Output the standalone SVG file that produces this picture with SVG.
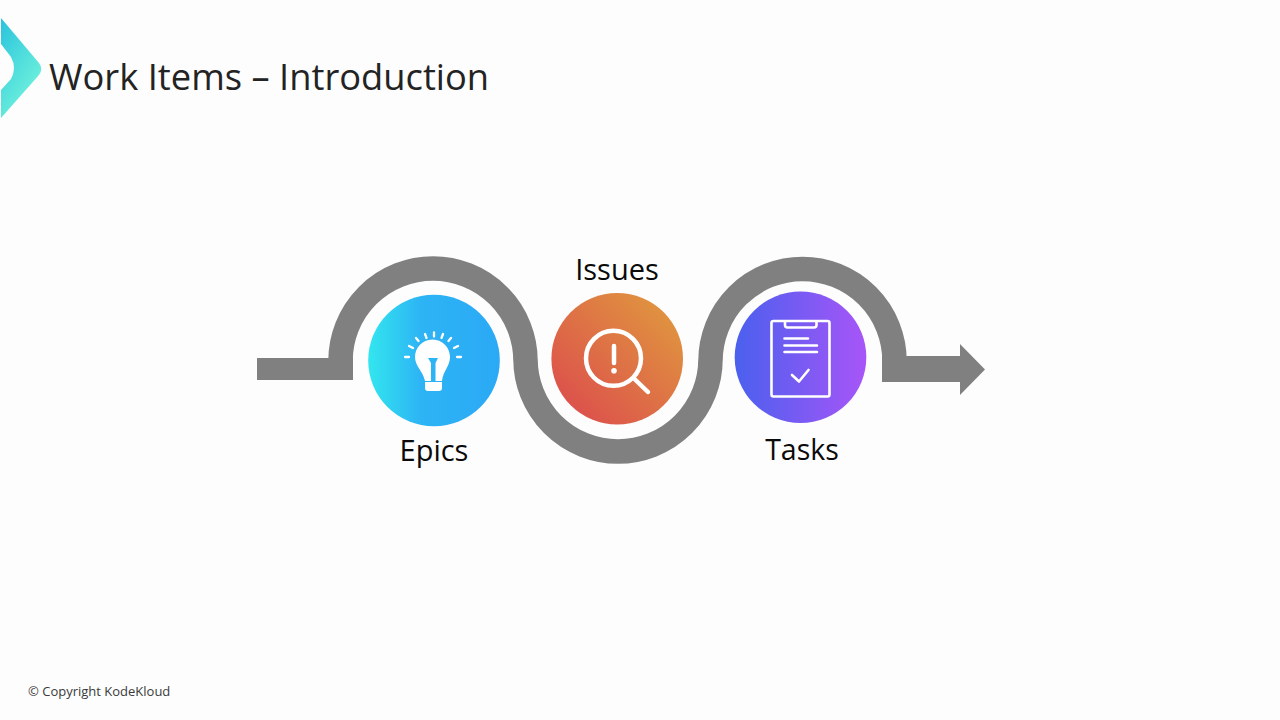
<svg xmlns="http://www.w3.org/2000/svg" width="1280" height="720" viewBox="0 0 1280 720">
<style>
text{font-family:"Open Sans","Noto Sans","Liberation Sans",sans-serif}
.title{font-size:36.300px;fill:#232323}
.label{font-size:29px;fill:#0a0a0a;text-anchor:middle}
.foot{font-size:13px;fill:#3a3a3a}
.band{fill:none;stroke:#808080;stroke-width:24.500}
.solid{fill:#808080}
.ico{fill:none;stroke:#fff;stroke-linecap:round;stroke-linejoin:round}
.icof{fill:#fff}
</style>
<defs>
<linearGradient id="gLogo" x1="0" y1="0" x2="0.6" y2="1"><stop offset="0" stop-color="#29c3dd"/><stop offset="1" stop-color="#74f5dc"/></linearGradient>
<linearGradient id="gEpics" x1="0" y1="0" x2="1" y2="0"><stop offset="0" stop-color="#33e6ee"/><stop offset="0.4" stop-color="#2db4f5"/><stop offset="1" stop-color="#2ba9f5"/></linearGradient>
<linearGradient id="gIssues" x1="0.1" y1="0.9" x2="0.9" y2="0.1"><stop offset="0" stop-color="#dc4f4c"/><stop offset="1" stop-color="#e0953f"/></linearGradient>
<linearGradient id="gTasks" x1="0" y1="0" x2="1" y2="0"><stop offset="0" stop-color="#4a60ee"/><stop offset="1" stop-color="#a855f8"/></linearGradient>
</defs>
<rect width="1280" height="720" fill="#fdfdfd"/>
<g id="logo"><path d="M1 18L39 63Q43.500 69 39 75L1 118V90L11 79Q17 68 11 57L1 44Z" fill="url(#gLogo)"/></g>
<text class="title" x="49" y="90">Work Items – Introduction</text>
<g id="connectors">
<rect class="solid" x="257" y="358" width="96" height="22"/>
<path class="band" d="M340.500 380V361A92.500 92.500 0 0 1 525.500 361V359A92.500 92.500 0 0 0 710.500 359V361A92 92 0 0 1 894.500 361V382"/>
<path class="solid" d="M882 356H960V344L985 369.500L960 395V382H882Z"/>
</g>
<g id="epics">
<circle cx="434" cy="360.500" r="65.800" fill="url(#gEpics)"/>
<path class="icof" d="M432.500 339.500C422 339.500 415 348 415 357C415 366 423 371 425 381H442C443 371 450 366 450 357C450 348 443 339.500 432.500 339.500ZM425 382H442V388Q442 391 439 391H428Q425 391 425 388Z"/>
<path d="M428 358H438L435.500 363V381H431V363Z" fill="#2db4f5"/>
<path class="ico" stroke-width="2.300" d="M405 357H409M409 346L413 348M416 338L418.500 341M425 334L426.500 338M434 332.500V336.500M443 334L441.500 338M451 338L448.500 341M458 346L454 348M461 357H457"/>
<text class="label" x="434" y="461">Epics</text>
</g>
<g id="issues">
<circle cx="617.200" cy="358.700" r="65.800" fill="url(#gIssues)"/>
<circle class="ico" cx="613.500" cy="358.300" r="27.500" stroke-width="4.500"/>
<path class="ico" stroke-width="4.500" d="M635 379.500L648 392M614 346V363"/>
<circle class="icof" cx="614" cy="370.700" r="2.800"/>
<text class="label" x="617" y="280">Issues</text>
</g>
<g id="tasks">
<circle cx="800.500" cy="357.200" r="65.800" fill="url(#gTasks)"/>
<rect class="ico" x="771.500" y="321" width="58" height="75.500" rx="2" stroke-width="2.600"/>
<path class="ico" stroke-width="2.600" d="M785 321.500V325Q785 327.500 787.500 327.500H814Q816.500 327.500 816.500 325V321.500"/>
<path class="ico" stroke-width="2.600" d="M784.500 338.500H808M784.500 345.500H817M784.500 352H817"/>
<path class="ico" stroke-width="2.600" d="M792 375L799 381.500L808.500 370"/>
<text class="label" x="802" y="460" style="font-size:28.500px">Tasks</text>
</g>
<text class="foot" x="28" y="696">© Copyright KodeKloud</text>
</svg>
